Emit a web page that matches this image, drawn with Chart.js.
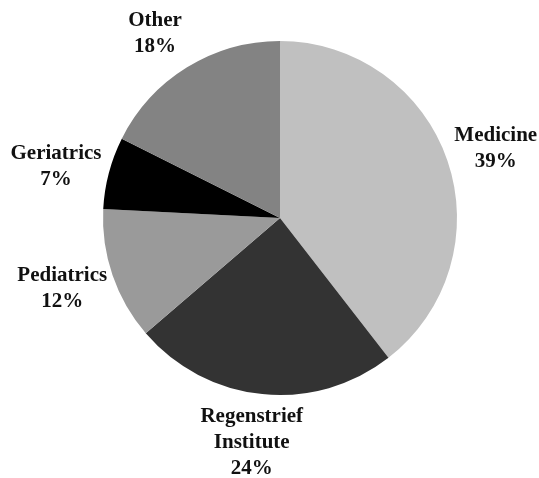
<!DOCTYPE html>
<html>
<head>
<meta charset="utf-8">
<script src="https://cdn.jsdelivr.net/npm/chart.js@4/dist/chart.umd.min.js"></script>
<style>
  html, body { margin: 0; padding: 0; background: #ffffff; }
  #wrap { width: 539px; height: 478px; position: relative; }
</style>
</head>
<body>
<div id="wrap"><canvas id="c" width="539" height="478"></canvas></div>
<script>
// Categories and slice shares, plus displayed percent labels
const categories = ["Medicine", "Regenstrief Institute", "Pediatrics", "Geriatrics", "Other"];
const labelLines = [["Medicine"], ["Regenstrief", "Institute"], ["Pediatrics"], ["Geriatrics"], ["Other"]];
const values = [39.5, 24.2, 12.1, 6.6, 17.6];
const percentLabels = ["39%", "24%", "12%", "7%", "18%"];

// Styling
const sliceColors = ["#c0c0c0", "#333333", "#9a9a9a", "#000000", "#838383"];
const labelNudge = [[1, 4.5], [-5.5, -1], [-3, -2.5], [-4.5, 6], [-5.7, 9]];

const outsideLabels = {
  id: 'outsideLabels',
  afterDatasetsDraw(chart) {
    const ctx = chart.ctx;
    const meta = chart.getDatasetMeta(0);
    ctx.save();
    ctx.font = 'bold 21px "Liberation Serif", "Times New Roman", serif';
    ctx.fillStyle = '#111111';
    ctx.textAlign = 'center';
    ctx.textBaseline = 'middle';
    const lh = 26;
    meta.data.forEach((arc, i) => {
      const p = arc.getProps(['x', 'y', 'startAngle', 'endAngle', 'outerRadius'], true);
      const mid = (p.startAngle + p.endAngle) / 2;
      const r = p.outerRadius + 50;
      const cx = p.x + Math.cos(mid) * r + labelNudge[i][0];
      const cy = p.y + Math.sin(mid) * r + labelNudge[i][1];
      const lines = labelLines[i].concat([percentLabels[i]]);
      const top = cy - (lines.length - 1) * lh / 2;
      lines.forEach((t, k) => ctx.fillText(t, cx, top + k * lh));
    });
    ctx.restore();
  }
};

new Chart(document.getElementById('c'), {
  type: 'pie',
  data: {
    labels: categories,
    datasets: [{
      data: values,
      backgroundColor: sliceColors,
      borderWidth: 0
    }]
  },
  options: {
    responsive: false,
    animation: false,
    layout: { padding: { left: 103, right: 82, top: 41, bottom: 83 } },
    plugins: {
      legend: { display: false },
      tooltip: { enabled: false }
    }
  },
  plugins: [outsideLabels]
});
</script>
</body>
</html>
